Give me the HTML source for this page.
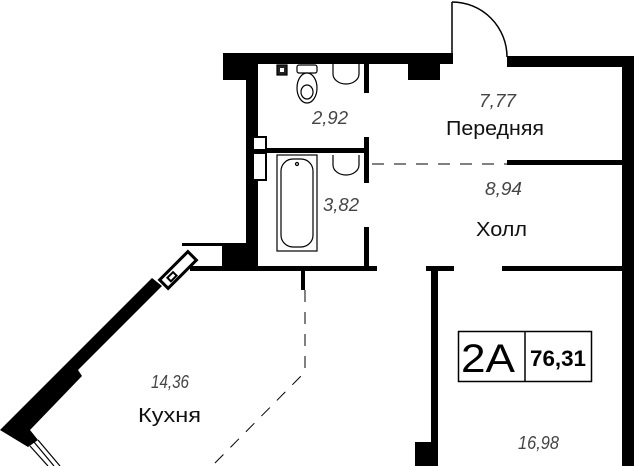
<!DOCTYPE html>
<html><head><meta charset="utf-8"><style>
html,body{margin:0;padding:0;background:#fff;width:640px;height:466px;overflow:hidden}
svg{display:block}
text{font-family:"Liberation Sans","DejaVu Sans",sans-serif}
.a{font-style:italic;fill:#444;font-size:18px}
.n{fill:#111;font-size:20px}
</style></head><body>
<svg width="640" height="466" viewBox="0 0 640 466" xmlns="http://www.w3.org/2000/svg">
<g fill="#000">
<rect x="223" y="53" width="230" height="11"/>
<rect x="223" y="53" width="30" height="27"/>
<rect x="246" y="53" width="12" height="215"/>
<rect x="408" y="64" width="32" height="16"/>
<rect x="507" y="56" width="127" height="11"/>
<rect x="622" y="56" width="12" height="410"/>
<rect x="364" y="64" width="5" height="29"/>
<rect x="364" y="137" width="5" height="46"/>
<rect x="364" y="227" width="5" height="42"/>
<rect x="258" y="148" width="106" height="5"/>
<rect x="507" y="160" width="115" height="5"/>
<rect x="190" y="266" width="187" height="5"/>
<rect x="222" y="243" width="26" height="25"/>
<rect x="182" y="243" width="44" height="3"/>
<rect x="426" y="266" width="28" height="5"/>
<rect x="502" y="266" width="122" height="5"/>
<rect x="431" y="266" width="7" height="200"/>
<rect x="415" y="442" width="22" height="24"/>
<rect x="301" y="271" width="4" height="19"/>
<polygon points="0,430 152,278 162,286 78,370 82,376 30,430 38,440 28,447"/>
</g>
<g transform="translate(178,270) rotate(-45)" stroke="#000" stroke-width="3" fill="#fff">
<rect x="-20" y="-6" width="40" height="12"/>
<rect x="-13" y="-2" width="8" height="5" stroke-width="2"/>
</g>
<g stroke="#000" stroke-width="1.2">
<line x1="30" y1="446" x2="48" y2="466"/><line x1="34" y1="442" x2="54" y2="466"/><line x1="38" y1="440" x2="60" y2="466"/>
</g>
<rect x="253" y="137" width="13" height="13" fill="#fff" stroke="#000" stroke-width="2"/>
<rect x="253" y="153" width="13" height="27" fill="#fff" stroke="#000" stroke-width="2"/>
<line x1="452" y1="2" x2="452" y2="64" stroke="#000" stroke-width="1.5"/>
<path d="M452 2 A55 55 0 0 1 507 57" fill="none" stroke="#000" stroke-width="1.5"/>
<g stroke="#000" stroke-width="1" fill="none" stroke-dasharray="12,10">
<line x1="372" y1="164" x2="507" y2="164"/>
<polyline points="305,290 305,372 212,466"/>
</g>
<g stroke="#000" stroke-width="1.2" fill="#fff">
<rect x="277" y="65" width="10" height="10" fill="#222"/>
<rect x="280" y="68" width="4" height="4" fill="#fff" stroke="none"/>
<rect x="297" y="65" width="20" height="8" rx="2"/>
<ellipse cx="307" cy="88" rx="10" ry="15"/>
<ellipse cx="307" cy="92" rx="6" ry="7"/>
<path d="M333 64 v10 a13 10 0 0 0 26 0 v-10"/>
<path d="M333 155 v10 a13 10 0 0 0 26 0 v-10"/>
<rect x="277" y="155" width="40" height="96"/>
<rect x="281" y="159" width="32" height="88" rx="12"/>
<circle cx="297" cy="164" r="1.5"/>
</g>
<text class="a" x="312" y="124" textLength="36" lengthAdjust="spacingAndGlyphs">2,92</text>
<text class="a" x="479" y="107" textLength="37" lengthAdjust="spacingAndGlyphs">7,77</text>
<text class="n" x="446" y="135" textLength="98" lengthAdjust="spacingAndGlyphs">Передняя</text>
<text class="a" x="323" y="211" textLength="36" lengthAdjust="spacingAndGlyphs">3,82</text>
<text class="a" x="485" y="195" textLength="37" lengthAdjust="spacingAndGlyphs">8,94</text>
<text class="n" x="476" y="236" textLength="51" lengthAdjust="spacingAndGlyphs">Холл</text>
<text class="a" x="151" y="388" textLength="38" lengthAdjust="spacingAndGlyphs">14,36</text>
<text class="n" x="138" y="422" textLength="63" lengthAdjust="spacingAndGlyphs">Кухня</text>
<text class="a" x="518" y="449" textLength="41" lengthAdjust="spacingAndGlyphs">16,98</text>
<rect x="458.5" y="331.5" width="133" height="50" fill="none" stroke="#000" stroke-width="1.5"/>
<line x1="525" y1="331" x2="525" y2="382" stroke="#000" stroke-width="1.5"/>
<text x="461" y="372" font-size="40" fill="#000" textLength="54" lengthAdjust="spacingAndGlyphs">2A</text>
<text x="530" y="366" font-size="22" font-weight="bold" fill="#000" textLength="56" lengthAdjust="spacingAndGlyphs">76,31</text>
</svg>
</body></html>
